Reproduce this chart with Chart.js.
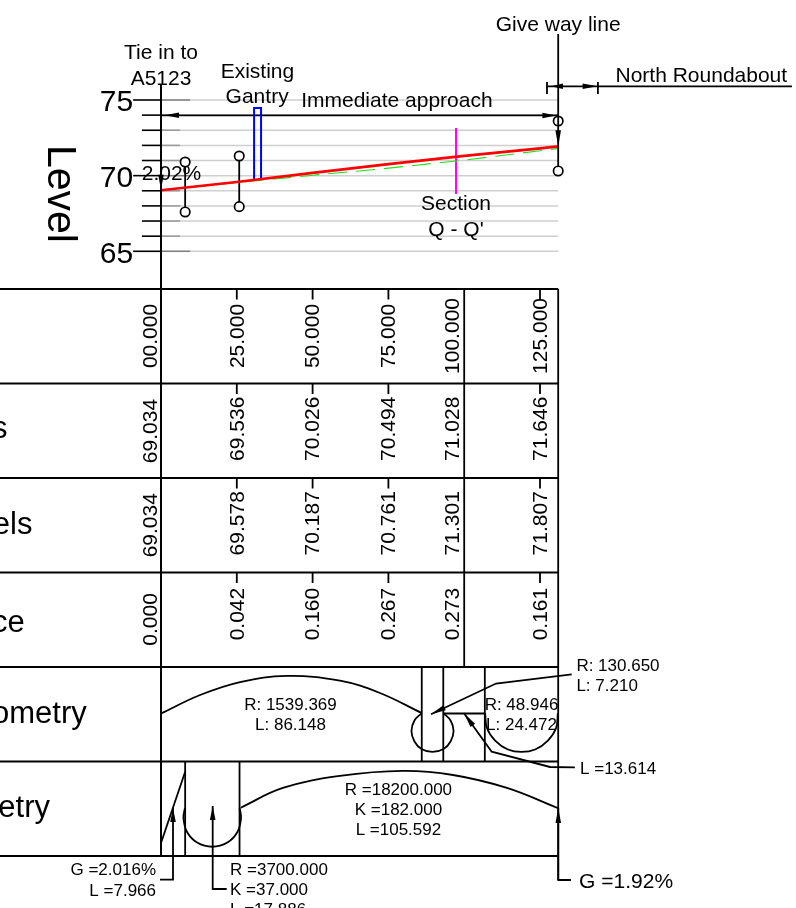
<!DOCTYPE html>
<html>
<head>
<meta charset="utf-8">
<style>
  html, body { margin: 0; padding: 0; background: #fff; }
  #wrap { width: 796px; height: 908px; overflow: hidden; }
</style>
<script src="https://cdn.jsdelivr.net/npm/chart.js@4/dist/chart.umd.min.js"></script>
</head>
<body>
<div id="wrap"><canvas id="chart" width="796" height="908"></canvas></div>
<script>
// long section values: x is chainage, y is level (top part) or table row (bottom part)
const chainages = [0, 25, 50, 75, 100, 125];
const chainageLabels = ["00.000", "25.000", "50.000", "75.000", "100.000", "125.000"];
const existingLevels = [69.034, 69.536, 70.026, 70.494, 71.028, 71.646];
const designLevels = [69.034, 69.578, 70.187, 70.761, 71.301, 71.807];
const differences = [0.000, 0.042, 0.160, 0.267, 0.273, 0.161];
const endChainage = 131;
const endExisting = 71.80;
const endDesign = 71.94;

const majorLevels = [65, 70, 75];
const minorLevels = [66, 67, 68, 69, 71, 72, 73, 74];

// vertical curve end markers: chainage, high circle, low circle
const markerChainage = [7.966, 25.8, 131];
const markerHigh = [70.90, 71.30, 73.61];
const markerLow = [67.60, 67.95, 70.31];

const gantryLine = [[30.7, 69.65], [30.7, 74.47], [33.0, 74.47], [33.0, 69.75]];
const sectionLine = [[97.3, 73.15], [97.3, 68.79]];

// horizontal geometry strip
const hCrest = [[0, 4.492], [12.9, 4.296], [26.1, 4.159], [41.6, 4.095], [59.0, 4.145], [72.2, 4.275], [86.0, 4.487]];
const hSmallCurve = [[86.0, 4.487], [83.6, 4.566], [82.6, 4.677], [83.6, 4.788], [85.9, 4.868], [89.5, 4.899], [93.2, 4.868], [95.5, 4.788], [96.5, 4.677], [95.5, 4.566], [93.1, 4.487]];
const hStraight = [[93.1, 4.492], [106.8, 4.492]];
const hRightCurve = [[106.9, 4.487], [107.5, 4.645], [110.2, 4.778], [114.4, 4.873], [118.9, 4.899], [123.4, 4.873], [127.6, 4.778], [130.3, 4.645], [130.9, 4.487]];
const hDividers = [86.0, 93.1, 106.8];

// vertical geometry strip
const vGrade = [[0, 5.862], [7.966, 5.108]];
const vSag = [[7.9, 5.492], [7.4, 5.598], [8.6, 5.746], [11.9, 5.857], [16.9, 5.902], [21.9, 5.857], [25.2, 5.746], [26.4, 5.598], [25.9, 5.492]];
const vCrest = [[26.3, 5.489], [40.2, 5.28], [59.0, 5.153], [79.8, 5.1], [96.3, 5.143], [114.1, 5.28], [131, 5.495]];
const vDividers = [7.966, 25.9];

// leaders, tip first
const leaderR130 = [[89.05, 4.50], [110.5, 4.175], [135.45, 4.079]];
const leaderL13 = [[99.93, 4.49], [109.07, 4.896], [128.3, 5.058], [136.5, 5.063]];
const leaderG2 = [[3.96, 5.492], [3.96, 6.249], [-0.33, 6.249]];
const leaderK = [[17.05, 5.471], [17.05, 6.349], [21.67, 6.349]];
const leaderG192 = [[131.03, 5.492], [131.03, 6.254], [135.2, 6.254]];

const BLACK = "#000";
const LINE = 1.8;
const FONT = '"Liberation Sans", Arial, sans-serif';

// bottom of the list gets drawn last, chart.js paints dataset 0 on top so reverse later
const layers = [];
function addLine(points, yAxisID, color, width, extra) {
    layers.push(Object.assign({
        type: "scatter",
        showLine: true,
        data: points.map(p => ({ x: p[0], y: p[1] })),
        yAxisID: yAxisID,
        borderColor: color,
        borderWidth: width,
        pointRadius: 0,
        fill: false,
        tension: 0
    }, extra || {}));
}

// gridlines with their darker stubs and ticks
[...majorLevels, ...minorLevels].forEach(v => {
    addLine([[0, v], [endChainage, v]], "y", "#cfcfcf", 1.5);
});
majorLevels.forEach(v => {
    addLine([[0, v], [9.6, v]], "y", "#808080", 1.5);
    addLine([[-9.2, v], [0, v]], "y", BLACK, 1.6);
});
minorLevels.forEach(v => {
    addLine([[0, v], [6.3, v]], "y", "#9a9a9a", 1.5);
    addLine([[-6.3, v], [0, v]], "y", BLACK, 1.6);
});

// section lines and markers
addLine([[0, 73.99], [endChainage, 73.99]], "y", BLACK, LINE);
markerChainage.forEach((c, i) => {
    if (i < 2) addLine([[c, markerHigh[i]], [c, markerLow[i]]], "y", BLACK, LINE);
});
layers.push({
    type: "scatter",
    data: markerChainage.flatMap((c, i) => [{ x: c, y: markerHigh[i] }, { x: c, y: markerLow[i] }]),
    yAxisID: "y",
    pointRadius: 4.7,
    pointBackgroundColor: "#fff",
    pointBorderColor: BLACK,
    pointBorderWidth: 1.7
});
addLine(gantryLine, "y", "#0000ff", 2);
addLine(sectionLine, "y", "#ff00ff", 2);
addLine([...chainages, endChainage].map((c, i) => [c, [...existingLevels, endExisting][i]]), "y", "#22dd22", 1.1, { borderDash: [19, 9] });
addLine([...chainages, endChainage].map((c, i) => [c, [...designLevels, endDesign][i]]), "y", "#ff0000", 2.7);
addLine([[endChainage, 79.36], [endChainage, 70.57]], "y", BLACK, LINE);
addLine([[127.3, 75.905], [208.1, 75.905]], "y", BLACK, LINE);
addLine([[127.3, 76.19], [127.3, 75.40]], "y", BLACK, LINE);
addLine([[144.1, 76.19], [144.1, 75.40]], "y", BLACK, LINE);

// table frame
[0, 1, 2, 3, 4, 5, 6].forEach(r => addLine([[-53.1, r], [endChainage, r]], "yRows", BLACK, LINE));
addLine([[0, -2.159], [0, 6]], "yRows", BLACK, 2);
addLine([[100, 0], [100, 4]], "yRows", BLACK, LINE);
addLine([[endChainage, 0], [endChainage, 6.254]], "yRows", BLACK, LINE);
[0, 1, 2, 3].forEach(r => {
    [25, 50, 75, 125].forEach(c => addLine([[c, r], [c, r + 0.11]], "yRows", BLACK, LINE));
});
hDividers.forEach(c => addLine([[c, 4], [c, 5]], "yRows", BLACK, LINE));
vDividers.forEach(c => addLine([[c, 5], [c, 6]], "yRows", BLACK, LINE));

// geometry
addLine(hCrest, "yRows", BLACK, LINE, { tension: 0.4 });
addLine(hSmallCurve, "yRows", BLACK, LINE, { tension: 0.4 });
addLine(hStraight, "yRows", BLACK, LINE);
addLine(hRightCurve, "yRows", BLACK, LINE, { tension: 0.4 });
addLine(vGrade, "yRows", BLACK, LINE);
addLine(vSag, "yRows", BLACK, LINE, { tension: 0.4 });
addLine(vCrest, "yRows", BLACK, LINE, { tension: 0.4 });
[leaderR130, leaderL13, leaderG2, leaderK, leaderG192].forEach(l => addLine(l, "yRows", BLACK, LINE));

// arrowheads: axis, tip, point behind tip, length in px
const arrows = [
    ["y", [1.3, 73.99], [20, 73.99], 14],
    ["y", [130.4, 73.97], [100, 74.03], 14],
    ["y", [0, 69.06], [0, 75], 15],
    ["y", [131, 71.94], [131, 75], 16],
    ["y", [128.6, 75.905], [135, 75.905], 12],
    ["y", [144.0, 75.905], [135, 75.905], 15],
    ["yRows", leaderR130[0], leaderR130[1], 15],
    ["yRows", leaderL13[0], leaderL13[1], 15],
    ["yRows", leaderG2[0], leaderG2[1], 14],
    ["yRows", leaderK[0], leaderK[1], 14],
    ["yRows", leaderG192[0], leaderG192[1], 15]
];

// text placed in data units: text, chainage, axis, value, size, align
const notes = [
    ["Tie in to", 0, "y", 78.17, 21, "center"],
    ["A5123", 0, "y", 76.45, 21, "center"],
    ["Existing", 31.8, "y", 76.92, 21, "center"],
    ["Gantry", 31.7, "y", 75.23, 21, "center"],
    ["Immediate approach", 77.8, "y", 75.0, 21, "center"],
    ["Give way line", 131, "y", 80.02, 21, "center"],
    ["North Roundabout", 149.9, "y", 76.65, 21, "left"],
    ["Section", 97.3, "y", 68.19, 21, "center"],
    ["Q - Q'", 97.3, "y", 66.47, 21, "center"],
    ["2.02%", 3.46, "y", 70.18, 21, "center"],
    ["R: 1539.369", 42.7, "yRows", 4.395, 17, "center"],
    ["L: 86.148", 42.7, "yRows", 4.606, 17, "center"],
    ["R: 48.946", 118.9, "yRows", 4.395, 17, "center"],
    ["L: 24.472", 118.9, "yRows", 4.606, 17, "center"],
    ["R: 130.650", 137.0, "yRows", 3.984, 17, "left"],
    ["L: 7.210", 137.0, "yRows", 4.19, 17, "left"],
    ["L =13.614", 138.2, "yRows", 5.069, 17, "left"],
    ["R =18200.000", 78.3, "yRows", 5.297, 17, "center"],
    ["K =182.000", 78.3, "yRows", 5.508, 17, "center"],
    ["L =105.592", 78.3, "yRows", 5.72, 17, "center"],
    ["G =2.016%", -1.65, "yRows", 6.138, 17, "right"],
    ["L =7.966", -1.65, "yRows", 6.36, 17, "right"],
    ["R =3700.000", 22.76, "yRows", 6.138, 17, "left"],
    ["K =37.000", 22.76, "yRows", 6.349, 17, "left"],
    ["L =17.886", 22.76, "yRows", 6.561, 17, "left"],
    ["G =1.92%", 137.9, "yRows", 6.265, 21, "left"]
];

// row titles run off the left of the sheet
const rowTitles = [
    ["s", -50.6, 1.58],
    ["els", -42.4, 2.59],
    ["ce", -44.9, 3.626],
    ["ometry", -24.5, 4.593],
    ["etry", -36.6, 5.584]
];
const columnX = [-3.7, 25, 50, 75, 96.2, 125];
const rowMiddle = [0.497, 1.479, 2.479, 3.44];
const firstColumnMiddle = [0.497, 1.503, 2.5, 3.497];

const labelsPlugin = {
    id: "labels",
    afterDatasetsDraw(chart) {
        const ctx = chart.ctx;
        const xs = chart.scales.x;
        ctx.save();
        ctx.fillStyle = "#000";

        arrows.forEach(a => {
            const ys = chart.scales[a[0]];
            const tx = xs.getPixelForValue(a[1][0]), ty = ys.getPixelForValue(a[1][1]);
            const bx = xs.getPixelForValue(a[2][0]), by = ys.getPixelForValue(a[2][1]);
            const ang = Math.atan2(by - ty, bx - tx);
            const len = a[3], half = 2.8;
            const cx = tx + Math.cos(ang) * len, cy = ty + Math.sin(ang) * len;
            ctx.beginPath();
            ctx.moveTo(tx, ty);
            ctx.lineTo(cx - Math.sin(ang) * half, cy + Math.cos(ang) * half);
            ctx.lineTo(cx + Math.sin(ang) * half, cy - Math.cos(ang) * half);
            ctx.closePath();
            ctx.fill();
        });

        notes.forEach(n => {
            ctx.font = n[4] + "px " + FONT;
            ctx.textAlign = n[5];
            ctx.textBaseline = "middle";
            ctx.fillText(n[0], xs.getPixelForValue(n[1]), chart.scales[n[2]].getPixelForValue(n[3]) + 1);
        });

        function rotated(text, x, y, size, angle) {
            ctx.save();
            ctx.translate(x, y);
            ctx.rotate(angle);
            ctx.font = size + "px " + FONT;
            ctx.textAlign = "center";
            ctx.textBaseline = "middle";
            ctx.fillText(text, 0, 0);
            ctx.restore();
        }

        rotated("Level", xs.getPixelForValue(-33.6), chart.scales.y.getPixelForValue(68.79), 41, Math.PI / 2);

        // level axis labels
        ctx.font = "30px " + FONT;
        ctx.textAlign = "right";
        ctx.textBaseline = "middle";
        majorLevels.forEach(v => ctx.fillText(String(v), xs.getPixelForValue(-9.2), chart.scales.y.getPixelForValue(v) + 3));

        // table columns
        const rs = chart.scales.yRows;
        const tableRows = [chainageLabels, existingLevels, designLevels, differences];
        tableRows.forEach((vals, r) => {
            vals.forEach((v, i) => {
                const text = typeof v === "number" ? v.toFixed(3) : v;
                const mid = i === 0 ? firstColumnMiddle[r] : rowMiddle[r];
                rotated(text, xs.getPixelForValue(columnX[i]) + 1, rs.getPixelForValue(mid), 21, -Math.PI / 2);
            });
        });

        ctx.font = "31px " + FONT;
        ctx.textAlign = "right";
        ctx.textBaseline = "alphabetic";
        rowTitles.forEach(t => ctx.fillText(t[0], xs.getPixelForValue(t[1]), rs.getPixelForValue(t[2])));
        ctx.restore();
    }
};

new Chart(document.getElementById("chart"), {
    type: "scatter",
    data: { datasets: layers.reverse() },
    options: {
        responsive: false,
        animation: false,
        layout: { padding: 0, autoPadding: false },
        plugins: { legend: { display: false }, tooltip: { enabled: false } },
        scales: {
            x: { type: "linear", display: false, min: -53.1, max: 209.43 },
            yRows: { type: "linear", axis: "y", display: false, reverse: true, min: -3.0582, max: 6.5503 },
            y: { type: "linear", display: false, min: 21.596, max: 81.609 }
        }
    },
    plugins: [labelsPlugin]
});
</script>
</body>
</html>
